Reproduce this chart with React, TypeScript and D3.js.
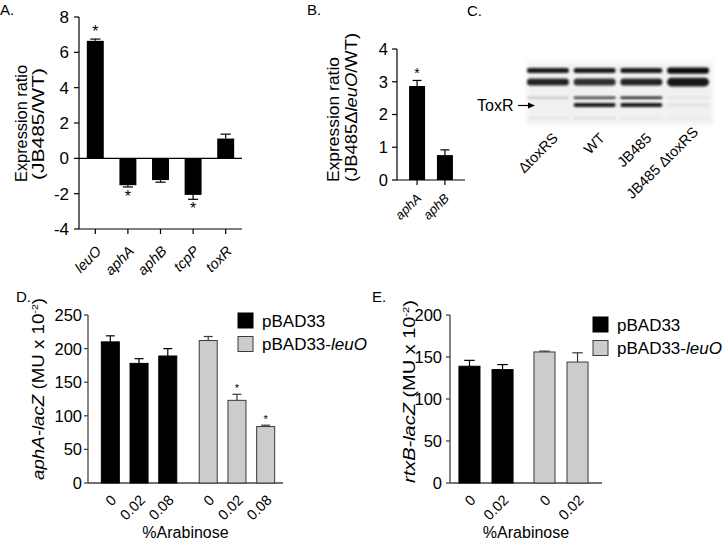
import React from 'react';
import * as d3 from 'd3';

const FONT = "'Liberation Sans', Arial, Helvetica, sans-serif";

// ---------- Panel A ----------
const genesA = ['leuO', 'aphA', 'aphB', 'tcpP', 'toxR'];
const ratioA = [6.65, -1.52, -1.23, -2.07, 1.12];
const errA = [0.1, 0.1, 0.12, 0.25, 0.25];
const sigA = [true, true, false, true, false];
const ticksA = [-4, -2, 0, 2, 4, 6, 8];

// ---------- Panel B ----------
const genesB = ['aphA', 'aphB'];
const ratioB = [2.87, 0.76];
const errB = [0.17, 0.16];
const sigB = [true, false];
const ticksB = [0, 1, 2, 3, 4];

// ---------- Panel C (western blot) ----------
const lanesC = ['\u0394toxRS', 'WT', 'JB485', 'JB485 \u0394toxRS'];
const bandRowsC = ['b1', 'b2', 'b3', 'toxR', 'b5'];
// intensity per row (rows) x lane (cols)
const bandIntensityC = [
  [0.95, 0.95, 0.95, 1.0],
  [0.9, 0.85, 0.9, 0.95],
  [0.15, 0.8, 0.9, 0.06],
  [0.0, 0.95, 0.95, 0.05],
  [0.08, 0.12, 0.06, 0.04],
];
const bandThickC = [5, 7, 2.5, 4, 1.5];

// ---------- Panel D ----------
const groupsD = ['pBAD33', 'pBAD33-leuO'];
const arabD = ['0', '0.02', '0.08'];
const valD = [[210, 178, 189], [212, 123, 84]];
const errD = [[9, 7, 11], [6, 9, 2]];
const sigD = [[false, false, false], [false, true, true]];
const ticksD = [0, 50, 100, 150, 200, 250];

// ---------- Panel E ----------
const arabE = ['0', '0.02'];
const valE = [[139, 135], [156, 144]];
const errE = [[7, 6], [1, 11]];
const ticksE = [0, 50, 100, 150, 200];

const groupFill = ['#000000', '#cccccc'];
const groupStroke = ['#000000', '#3a3a3a'];

function RotLabel({ x, y, text, size }: { x: number; y: number; text: string; size: number }) {
  return (
    <text
      transform={`translate(${x},${y}) rotate(-45)`}
      textAnchor="end"
      fontSize={size}
      fontStyle="italic"
      fontFamily={FONT}
    >
      {text}
    </text>
  );
}

function PanelA() {
  const x0 = 79, x1 = 242;
  const y = d3.scaleLinear().domain([-4, 8]).range([229, 17]);
  const x = d3.scalePoint<string>().domain(genesA).range([x0, x1]).padding(0.5);
  const step = x.step();
  const bw = step * 0.52;
  const cap = bw * 0.6;
  return (
    <g>
      <text x={0} y={15} fontSize={15} fontFamily={FONT}>A.</text>
      <line x1={x0} x2={x0} y1={y(8)} y2={y(-4)} stroke="#000" strokeWidth={1.2} />
      {ticksA.map((t) => (
        <g key={t}>
          <line x1={x0 - 5} x2={x0} y1={y(t)} y2={y(t)} stroke="#000" strokeWidth={1.2} />
          <text x={x0 - 10} y={y(t)} dy="0.36em" textAnchor="end" fontSize={17} fontFamily={FONT}>{t}</text>
        </g>
      ))}
      <line x1={x0} x2={x1} y1={y(0)} y2={y(0)} stroke="#000" strokeWidth={1.2} />
      <line x1={x0} x2={x1} y1={y(-4)} y2={y(-4)} stroke="#000" strokeWidth={1.2} />
      {genesA.map((g, i) => {
        const cx = x(g)!;
        const v = ratioA[i];
        const e = errA[i];
        const top = y(Math.max(0, v));
        const bot = y(Math.min(0, v));
        const ey = y(v + Math.sign(v) * e);
        return (
          <g key={g}>
            <line x1={cx} x2={cx} y1={y(-4)} y2={y(-4) + 5} stroke="#000" strokeWidth={1.2} />
            <rect x={cx - bw / 2} y={top} width={bw} height={bot - top} fill="#000" />
            <line x1={cx} x2={cx} y1={y(v)} y2={ey} stroke="#000" strokeWidth={1.2} />
            <line x1={cx - cap / 2} x2={cx + cap / 2} y1={ey} y2={ey} stroke="#000" strokeWidth={1.2} />
            {sigA[i] && (
              <text x={cx} y={v > 0 ? ey - 2 : ey + 15} textAnchor="middle" fontSize={16} fontFamily={FONT}>*</text>
            )}
            <RotLabel x={cx + 7} y={y(-4) + 23} text={g} size={14.5} />
          </g>
        );
      })}
      <text transform="translate(27,123.5) rotate(-90)" textAnchor="middle" fontSize={16} fontFamily={FONT} textLength={117} lengthAdjust="spacingAndGlyphs">Expression ratio</text>
      <text transform="translate(44,124) rotate(-90)" textAnchor="middle" fontSize={16} fontFamily={FONT} textLength={112} lengthAdjust="spacingAndGlyphs">(JB485/WT)</text>
    </g>
  );
}

function PanelB() {
  const x0 = 397, x1 = 465;
  const y = d3.scaleLinear().domain([0, 4]).range([180, 49]);
  const x = d3.scalePoint<string>().domain(genesB).range([x0, x1]).padding(0.72);
  const bw = 16;
  const cap = 9;
  return (
    <g>
      <text x={307} y={15} fontSize={15} fontFamily={FONT}>B.</text>
      <line x1={x0} x2={x0} y1={y(4)} y2={y(0)} stroke="#000" strokeWidth={1.2} />
      {ticksB.map((t) => (
        <g key={t}>
          <line x1={x0 - 5} x2={x0} y1={y(t)} y2={y(t)} stroke="#000" strokeWidth={1.2} />
          <text x={x0 - 9} y={y(t)} dy="0.36em" textAnchor="end" fontSize={16.5} fontFamily={FONT}>{t}</text>
        </g>
      ))}
      <line x1={x0} x2={x1} y1={y(0)} y2={y(0)} stroke="#000" strokeWidth={1.2} />
      {genesB.map((g, i) => {
        const cx = x(g)!;
        const v = ratioB[i];
        const ey = y(v + errB[i]);
        return (
          <g key={g}>
            <line x1={cx} x2={cx} y1={y(0)} y2={y(0) + 5} stroke="#000" strokeWidth={1.2} />
            <rect x={cx - bw / 2} y={y(v)} width={bw} height={y(0) - y(v)} fill="#000" />
            <line x1={cx} x2={cx} y1={y(v)} y2={ey} stroke="#000" strokeWidth={1.2} />
            <line x1={cx - cap / 2} x2={cx + cap / 2} y1={ey} y2={ey} stroke="#000" strokeWidth={1.2} />
            {sigB[i] && (
              <text x={cx} y={ey - 2} textAnchor="middle" fontSize={14} fontFamily={FONT}>*</text>
            )}
            <RotLabel x={cx + 5} y={y(0) + 19} text={g} size={13} />
          </g>
        );
      })}
      <text transform="translate(339,119.5) rotate(-90)" textAnchor="middle" fontSize={16.5} fontFamily={FONT} textLength={125} lengthAdjust="spacingAndGlyphs">Expression ratio</text>
      <text transform="translate(357,107.5) rotate(-90)" textAnchor="middle" fontSize={16.5} fontFamily={FONT} textLength={149} lengthAdjust="spacingAndGlyphs">
        (JB485{'\u0394'}<tspan fontStyle="italic">leuO</tspan>/WT)
      </text>
    </g>
  );
}

function PanelC() {
  const lane = d3.scaleBand<string>().domain(lanesC).range([526, 710]).paddingInner(0.1).paddingOuter(0.02);
  const rowY = d3.scaleOrdinal<string, number>().domain(bandRowsC).range([70.5, 82, 97.7, 105, 118.3]);
  return (
    <g>
      <defs>
        <filter id="blur" x="-20%" y="-200%" width="140%" height="500%">
          <feGaussianBlur stdDeviation="1.1" />
        </filter>
        <filter id="blur2" x="-20%" y="-20%" width="140%" height="140%">
          <feGaussianBlur stdDeviation="2" />
        </filter>
      </defs>
      <text x={467} y={16} fontSize={15} fontFamily={FONT}>C.</text>
      <rect x={527} y={62} width={186} height={63} fill="#f1f1f1" filter="url(#blur2)" />
      <g filter="url(#blur)">
        {bandRowsC.map((r, ri) =>
          lanesC.map((l, li) => {
            const op = bandIntensityC[ri][li];
            if (op <= 0) return null;
            const h = bandThickC[ri] * (li === 3 && ri < 2 ? 1.25 : 1);
            return (
              <rect
                key={r + l}
                x={lane(l)!}
                y={rowY(r) - h / 2}
                width={lane.bandwidth()}
                height={h}
                rx={h / 2}
                fill="#111"
                opacity={op}
              />
            );
          })
        )}
      </g>
      <text x={477} y={111} fontSize={16} fontFamily={FONT}>ToxR</text>
      <line x1={518} x2={530} y1={105.5} y2={105.5} stroke="#000" strokeWidth={1.2} />
      <path d="M535,105.5 L528,102.5 L528,108.5 Z" fill="#000" />
      {lanesC.map((l, li) => {
        const cx = lane(l)! + lane.bandwidth() / 2;
        return (
          <text
            key={l}
            transform={`translate(${cx + 11},${li === 3 ? 133 : 139}) rotate(-45)`}
            textAnchor="end"
            fontSize={14.5}
            fontFamily={FONT}
          >
            {l}
          </text>
        );
      })}
    </g>
  );
}

function GroupedPanel({
  letter, letterX, x0, x1, yMax, ticks, cats, vals, errs, sig, gene, labelX, labelCY, labelLen, legendX, legendY,
  outerRange, outerPad, innerPadIn, innerPadOut, tickLabelGap,
}: any) {
  const y = d3.scaleLinear().domain([0, yMax]).range([483, 315]);
  const outer = d3.scaleBand<string>().domain(groupsD).range(outerRange).paddingInner(outerPad);
  const inner = d3.scaleBand<string>().domain(cats).range([0, outer.bandwidth()]).paddingInner(innerPadIn).paddingOuter(innerPadOut);
  const bw = inner.bandwidth();
  const cap = bw * 0.5;
  const axisCol = '#444';
  return (
    <g>
      <text x={letterX} y={302} fontSize={15} fontFamily={FONT}>{letter}</text>
      <line x1={x0} x2={x0} y1={y(yMax)} y2={y(0)} stroke={axisCol} strokeWidth={1.3} />
      {ticks.map((t: number) => (
        <g key={t}>
          <line x1={x0 - 4} x2={x0} y1={y(t)} y2={y(t)} stroke={axisCol} strokeWidth={1.3} />
          <text x={x0 - tickLabelGap} y={y(t)} dy="0.36em" textAnchor="end" fontSize={16.5} fontFamily={FONT}>{t}</text>
        </g>
      ))}
      <line x1={x0} x2={x1} y1={y(0)} y2={y(0)} stroke={axisCol} strokeWidth={1.3} />
      {groupsD.map((g, gi) =>
        cats.map((c: string, ci: number) => {
          const bx = outer(g)! + inner(c)!;
          const cx = bx + bw / 2;
          const v = vals[gi][ci];
          const ey = y(v + errs[gi][ci]);
          return (
            <g key={g + c}>
              <line x1={cx} x2={cx} y1={y(v)} y2={ey} stroke={groupStroke[gi]} strokeWidth={1.2} />
              <line x1={cx - cap / 2} x2={cx + cap / 2} y1={ey} y2={ey} stroke={groupStroke[gi]} strokeWidth={1.2} />
              <rect x={bx} y={y(v)} width={bw} height={y(0) - y(v)} fill={groupFill[gi]} stroke={groupStroke[gi]} strokeWidth={1} />
              {sig[gi][ci] && (
                <text x={cx} y={ey - 2} textAnchor="middle" fontSize={11} fontFamily={FONT}>*</text>
              )}
              <text
                transform={`translate(${cx + 7},${y(0) + 18}) rotate(-45)`}
                textAnchor="end"
                fontSize={14.5}
                fontFamily={FONT}
              >
                {c}
              </text>
            </g>
          );
        })
      )}
      <text x={(x0 + x1) / 2} y={538} textAnchor="middle" fontSize={16} fontFamily={FONT}>%Arabinose</text>
      <text transform={`translate(${labelX},${labelCY}) rotate(-90)`} textAnchor="middle" fontSize={16} fontFamily={FONT} textLength={labelLen} lengthAdjust="spacingAndGlyphs">
        <tspan fontStyle="italic">{gene}</tspan>
        <tspan> (MU x 10</tspan>
        <tspan fontSize={9} dy={-6}>-2</tspan>
        <tspan dy={6}>)</tspan>
      </text>
      {groupsD.map((g, gi) => (
        <g key={g}>
          <rect x={legendX} y={legendY + gi * 23.5} width={15} height={15} fill={groupFill[gi]} stroke={groupStroke[gi]} strokeWidth={1} />
          <text x={legendX + 24} y={legendY + gi * 23.5 + 7.5} dy="0.36em" fontSize={17} fontFamily={FONT}>
            {g.includes('-') ? (
              <>
                {g.split('-')[0]}-<tspan fontStyle="italic">{g.split('-')[1]}</tspan>
              </>
            ) : g}
          </text>
        </g>
      ))}
    </g>
  );
}

export default function App() {
  return (
    <svg width={725} height={543} style={{ position: 'absolute', left: 0, top: 0, background: '#fff' }}>
      <rect width={725} height={543} fill="#fff" />
      <PanelA />
      <PanelB />
      <PanelC />
      <GroupedPanel
        letter="D." letterX={16} x0={88} x1={283} yMax={250} ticks={ticksD} cats={arabD}
        vals={valD} errs={errD} sig={sigD} gene="aphA-lacZ" labelX={44} labelCY={389} labelLen={182}
        legendX={238} legendY={313} outerRange={[95, 281]} outerPad={0.1} innerPadIn={0.373} innerPadOut={0.22}
        tickLabelGap={6}
      />
      <GroupedPanel
        letter="E." letterX={372} x0={450} x1={602} yMax={200} ticks={ticksE} cats={arabE}
        vals={valE} errs={errE} sig={[[false, false], [false, false]]} gene="rtxB-lacZ" labelX={415} labelCY={391.5} labelLen={183}
        legendX={593} legendY={317} outerRange={[453, 594]} outerPad={0.12} innerPadIn={0.364} innerPadOut={0.18}
        tickLabelGap={8}
      />
    </svg>
  );
}
